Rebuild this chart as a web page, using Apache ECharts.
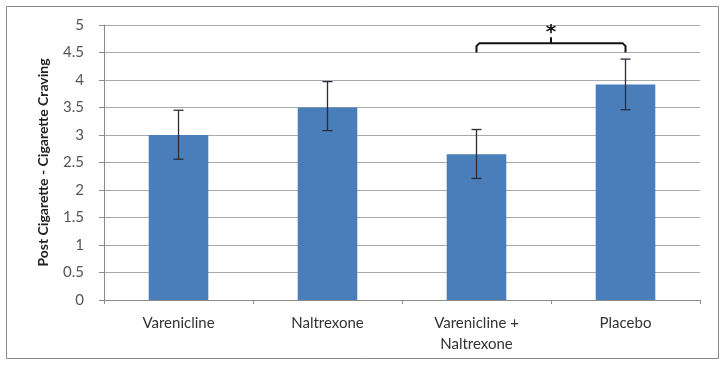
<!DOCTYPE html>
<html>
<head>
<meta charset="utf-8">
<script src="https://cdn.jsdelivr.net/npm/echarts@6/dist/echarts.min.js"></script>
<style>
  html, body { margin: 0; padding: 0; background: #fff; }
  #chart { width: 725px; height: 367px; }
</style>
</head>
<body>
<div id="chart"></div>
<script>
var categories = ['Varenicline', 'Naltrexone', 'Varenicline +\nNaltrexone', 'Placebo'];
var means = [3.0, 3.5, 2.65, 3.92];
var errLow = [2.56, 3.08, 2.21, 3.46];
var errHigh = [3.45, 3.97, 3.1, 4.38];
// significance bracket between group 3 and 4
var bracket = [2, 3, 4.5, 4.67];
var starValue = 4.86;

var myChart = echarts.init(document.getElementById('chart'));

var errData = [];
for (var i = 0; i < means.length; i++) {
    errData.push([i, errLow[i], errHigh[i]]);
}

option = {
    animation: false,
    textStyle: { fontFamily: 'Lato' },
    graphic: [{
        type: 'rect',
        shape: { x: 6.5, y: 6.5, width: 712, height: 352 },
        style: { fill: 'none', stroke: '#8a8a8a', lineWidth: 1 }
    }],
    grid: {
        left: 104,
        right: 25,
        top: 25,
        bottom: 67
    },
    xAxis: {
        type: 'category',
        data: categories,
        axisLine: { lineStyle: { color: '#8c8c8c' } },
        axisTick: { show: true, length: 4, lineStyle: { color: '#8c8c8c' } },
        axisLabel: {
            color: '#333',
            fontSize: 15,
            margin: 13,
            lineHeight: 21
        }
    },
    yAxis: {
        type: 'value',
        min: 0,
        max: 5,
        interval: 0.5,
        name: 'Post Cigarette - Cigarette Craving',
        nameLocation: 'middle',
        nameGap: 54,
        nameTextStyle: { fontSize: 14, fontWeight: 'bold', color: '#222' },
        axisLine: { show: true, lineStyle: { color: '#8c8c8c' } },
        axisTick: { show: true, length: 5, lineStyle: { color: '#8c8c8c' } },
        axisLabel: { color: '#555', fontSize: 15, margin: 20 },
        splitLine: { lineStyle: { color: '#a8a8a8' } }
    },
    series: [{
        type: 'bar',
        data: means,
        barWidth: '40%',
        itemStyle: { color: '#4a7ebb' }
    }, {
        type: 'custom',
        data: errData,
        z: 10,
        renderItem: function (params, api) {
            var lo = api.coord([api.value(0), api.value(1)]);
            var hi = api.coord([api.value(0), api.value(2)]);
            var w = 5;
            var style = { stroke: '#2b2b3a', lineWidth: 1.3 };
            return {
                type: 'group',
                children: [
                    { type: 'line', shape: { x1: hi[0], y1: hi[1], x2: lo[0], y2: lo[1] }, style: style },
                    { type: 'line', shape: { x1: hi[0] - w, y1: hi[1], x2: hi[0] + w, y2: hi[1] }, style: style },
                    { type: 'line', shape: { x1: lo[0] - w, y1: lo[1], x2: lo[0] + w, y2: lo[1] }, style: style }
                ]
            };
        }
    }, {
        type: 'custom',
        data: [bracket],
        z: 10,
        renderItem: function (params, api) {
            var a = api.coord([api.value(0), api.value(2)]);
            var b = api.coord([api.value(1), api.value(2)]);
            var top = api.coord([api.value(0), api.value(3)])[1];
            var mid = (a[0] + b[0]) / 2;
            var star = api.coord([api.value(0), starValue])[1];
            var style = { stroke: '#111', lineWidth: 2, fill: 'none' };
            return {
                type: 'group',
                children: [
                    { type: 'polyline', shape: { points: [[a[0], a[1]], [a[0], top + 3], [a[0] + 3, top], [b[0] - 3, top], [b[0], top + 3], [b[0], b[1]]] }, style: style },
                    { type: 'line', shape: { x1: mid, y1: top, x2: mid, y2: top - 6 }, style: style },
                    { type: 'text', x: mid, y: star, style: { text: '*', fontSize: 20, fontWeight: 'bold', fill: '#111', align: 'center', verticalAlign: 'middle', fontFamily: 'DejaVu Sans' } }
                ]
            };
        }
    }]
};
myChart.setOption(option);
</script>
</body>
</html>
